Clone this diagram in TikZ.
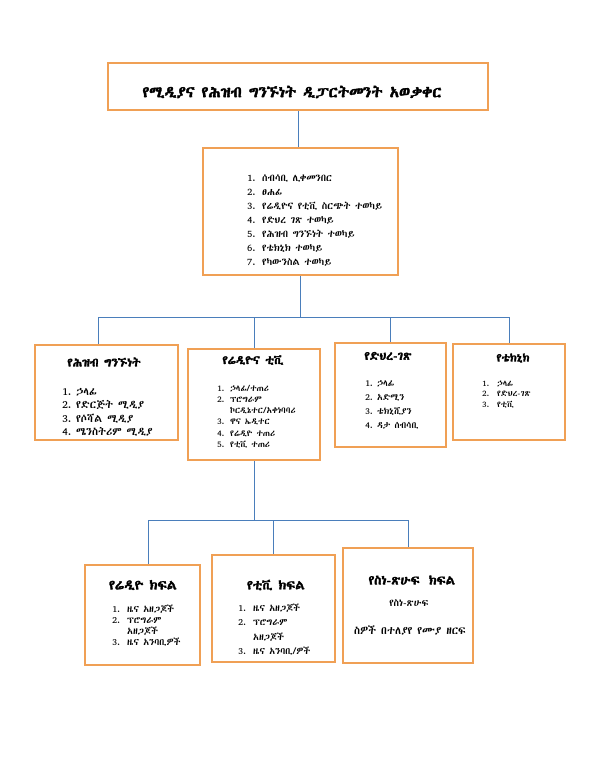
\documentclass[tikz,border=0pt]{standalone}
\usepackage{fontspec}
\usetikzlibrary{calc}
\setmainfont{Abyssinica SIL}
\newfontfamily\ethb[FakeBold=2.5]{Abyssinica SIL}
\definecolor{boxorange}{RGB}{240,160,85}
\definecolor{linkblue}{RGB}{74,126,187}
\newcommand\fsz[2]{\fontsize{#1}{#2}\selectfont}
\tikzset{
  box/.style={draw=boxorange, line width=2.2pt, fill=white, inner sep=0pt},
  conn/.style={draw=linkblue, line width=0.8pt},
  head/.style={inner sep=0pt, font=\ethb\fsz{12}{14}},
  lst/.style={inner sep=0pt, anchor=base west},
}
\begin{document}
\begin{tikzpicture}[x=1pt,y=-1pt]
\useasboundingbox (0,0) rectangle (593,768);
% boxes
\node[box, minimum width=380pt, minimum height=47pt] (title) at (298,86.5) {};
\node[box, minimum width=195pt, minimum height=127pt] (top) at (300.5,211.5) {};
\node[box, minimum width=143pt, minimum height=95pt] (b1) at (106.5,392.5) {};
\node[box, minimum width=132pt, minimum height=111pt] (b2) at (254,404.5) {};
\node[box, minimum width=111pt, minimum height=104pt] (b3) at (390.5,395) {};
\node[box, minimum width=112pt, minimum height=96pt] (b4) at (509,392) {};
\node[box, minimum width=115pt, minimum height=100pt] (b5) at (142.5,615) {};
\node[box, minimum width=123pt, minimum height=107pt] (b6) at (273.5,608.5) {};
\node[box, minimum width=130pt, minimum height=115pt] (b7) at (408,605.5) {};
% connectors
\coordinate (bus) at (298,317);
\coordinate (bus2) at (254,520);
\draw[conn] (title.south) -- (title.south |- top.north);
\draw[conn] (top.south) -- (top.south |- bus);
\draw[conn] ($(b1.north)+(-8.5,0)$) |- (b4.north |- bus) -- (b4.north);
\draw[conn] (b2.north) -- (b2.north |- bus);
\draw[conn] (b3.north) -- (b3.north |- bus);
\draw[conn] (b2.south) -- (b2.south |- bus2);
\draw[conn] ($(b5.north)+(5.5,0)$) |- (b7.north |- bus2) -- (b7.north);
\draw[conn] (b6.north) -- (b6.north |- bus2);
% title
\node[inner sep=0pt, font=\ethb\fsz{15.5}{18}] (titletxt) at (292,92) {የሚዲያና የሕዝብ ግንኙነት ዲፓርትመንት አወቃቀር};
% top list
\node[lst, font=\fsz{10}{14}] (toplist) at (247,181) {\begin{tabular}[t]{@{}p{15pt}@{}l@{}}
1. & ሰብሳቢ ሊቀመንበር\\
2. & ፀሐፊ\\
3. & የሬዲዮና የቲቪ ስርጭት ተወካይ\\
4. & የድህረ ገጽ ተወካይ\\
5. & የሕዝብ ግንኙነት ተወካይ\\
6. & የቴክኒክ ተወካይ\\
7. & የካውንስል ተወካይ
\end{tabular}};
% box 1
\node[head] (h1) at (104,362) {የሕዝብ ግንኙነት};
\node[lst, font=\fsz{11}{13.5}] (l1) at (62,395) {\begin{tabular}[t]{@{}p{14pt}@{}l@{}}
1. & ኃላፊ\\
2. & የድርጅት ሚዲያ\\
3. & የሶሻል ሚዲያ\\
4. & ሜንስትሪም ሚዲያ
\end{tabular}};
% box 2
\node[head] (h2) at (253,360) {የሬዲዮና ቲቪ};
\node[lst, font=\fsz{8.8}{11.3}] (l2) at (217,391) {\begin{tabular}[t]{@{}p{13pt}@{}l@{}}
1. & ኃላፊ/ተጠሪ\\
2. & ፕሮግራም\\
   & ኮርዲኔተር/አቀነባባሪ\\
3. & ዋና ኤዲተር\\
4. & የሬዲዮ ተጠሪ\\
5. & የቲቪ ተጠሪ
\end{tabular}};
% box 3
\node[head] (h3) at (388,356) {የድህረ-ገጽ};
\node[lst, font=\fsz{9.2}{14}] (l3) at (365,386) {\begin{tabular}[t]{@{}p{12pt}@{}l@{}}
1. & ኃላፊ\\
2. & አድሚን\\
3. & ቴክኒሺያን\\
4. & ዳታ ሰብሳቢ
\end{tabular}};
% box 4
\node[head, font=\ethb\fsz{11.5}{14}] (h4) at (513,358) {የቴክኒክ};
\node[lst, font=\fsz{8.5}{10.5}] (l4) at (482,386) {\begin{tabular}[t]{@{}p{15pt}@{}l@{}}
1. & ኃላፊ\\
2. & የድህረ-ገጽ\\
3. & የቲቪ
\end{tabular}};
% box 5
\node[head, font=\ethb\fsz{13.5}{15}] (h5) at (143,585) {የሬዲዮ ክፍል};
\node[lst, font=\fsz{9.5}{11}] (l5) at (112,612) {\begin{tabular}[t]{@{}p{15pt}@{}l@{}}
1. & ዜና አዘጋጆች\\
2. & ፕሮግራም\\
   & አዘጋጆች\\
3. & ዜና አንባቢዎች
\end{tabular}};
% box 6
\node[head, font=\ethb\fsz{13}{15}] (h6) at (276,585) {የቲቪ ክፍል};
\node[lst, font=\fsz{9.5}{14.5}] (l6) at (238,611) {\begin{tabular}[t]{@{}p{15pt}@{}l@{}}
1. & ዜና አዘጋጆች\\
2. & ፕሮግራም\\
   & አዘጋጆች\\
3. & ዜና አንባቢ/ዎች
\end{tabular}};
% box 7
\node[head, font=\ethb\fsz{13}{15}] (h7) at (412,580) {የስነ-ጽሁፍ\hspace{0.7em}ክፍል};
\node[inner sep=0pt, font=\fsz{10}{12}] (t7a) at (409,603) {የስነ-ጽሁፍ};
\node[inner sep=0pt, font=\fsz{11}{13}] (t7b) at (410,630) {ስዎች በተለያየ የሙያ ዘርፍ};
\end{tikzpicture}
\end{document}
